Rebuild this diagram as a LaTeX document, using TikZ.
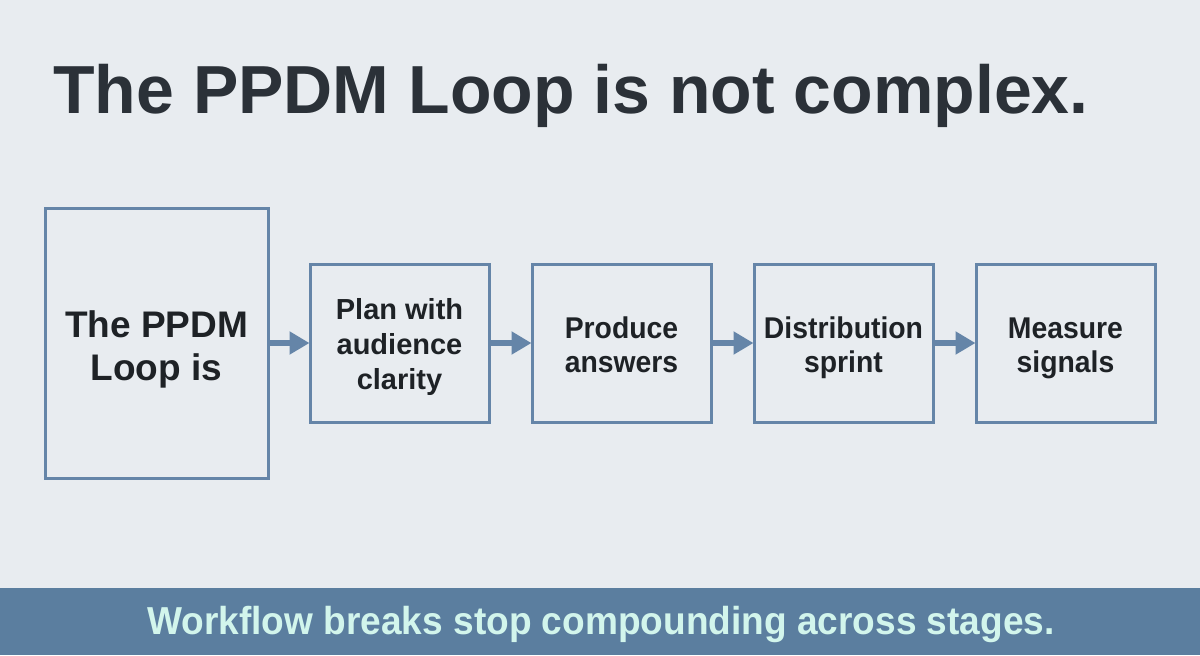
\documentclass[tikz,border=0pt]{standalone}
\usepackage{fontspec}
\setmainfont{Liberation Sans}
\newfontfamily\condfont[FakeStretch=0.945]{Liberation Sans}
\newfontfamily\bandfont[FakeStretch=0.95]{Liberation Sans}
\usetikzlibrary{arrows.meta}
\definecolor{bgc}{HTML}{E8ECF0}
\definecolor{bandc}{HTML}{5B7E9F}
\definecolor{boxc}{HTML}{6585A8}
\definecolor{titlec}{HTML}{2B3138}
\definecolor{txtc}{HTML}{1E2226}
\definecolor{bandtxt}{HTML}{D2F5EC}
\newcommand{\toprule}[1]{\rule{0pt}{#1}}
\newcommand{\botrule}[1]{\rule[-#1]{0pt}{#1}}
\tikzset{
  stagebox/.style={draw=boxc, line width=1.5pt, fill=bgc, inner sep=0pt, align=center, text=txtc},
  smallbox/.style={stagebox, minimum width=89.5pt, minimum height=79pt},
  condtext/.style={font=\condfont\fontsize{15}{17}\selectfont\bfseries},
  flowarrow/.style={draw=boxc, line width=3pt, -{Triangle[length=10pt,width=11pt]}, shorten >=-0.5pt}
}
\begin{document}
\begin{tikzpicture}[x=0.5pt,y=-0.5pt]
\fill[bgc] (0,0) rectangle (1200,655);
\useasboundingbox (0,0) rectangle (1200,655);
\fill[bandc] (0,588) rectangle (1200,655);
\node[anchor=base west, inner sep=0pt, text=titlec, font=\fontsize{34}{40}\selectfont\bfseries] (title) at (53,113) {The PPDM Loop is not complex.};
\node[stagebox, minimum width=111.5pt, minimum height=135pt, font=\fontsize{18.5}{21.5}\selectfont\bfseries] (b1) at (156.5,343) {\toprule{20.5pt}The PPDM\\Loop is\botrule{5pt}};
\node[smallbox, font=\fontsize{14.5}{17.5}\selectfont\bfseries] (b2) at (399.5,343) {\toprule{15pt}Plan with\\audience\\clarity\botrule{4pt}};
\node[smallbox, condtext] (b3) at (621.5,343) {\toprule{16pt}Produce\\answers\botrule{4pt}};
\node[smallbox, condtext] (b4) at (843.5,343) {\toprule{16pt}Distribution\\sprint\botrule{4pt}};
\node[smallbox, condtext] (b5) at (1065.5,343) {\toprule{16pt}Measure\\signals\botrule{4pt}};
\draw[flowarrow] (b1.east) -- (b2.west);
\draw[flowarrow] (b2.east) -- (b3.west);
\draw[flowarrow] (b3.east) -- (b4.west);
\draw[flowarrow] (b4.east) -- (b5.west);
\node[anchor=base, text=bandtxt, inner sep=0pt, font=\bandfont\fontsize{19.5}{24}\selectfont\bfseries] (band) at (601,634) {Workflow breaks stop compounding across stages.};
\end{tikzpicture}
\end{document}
